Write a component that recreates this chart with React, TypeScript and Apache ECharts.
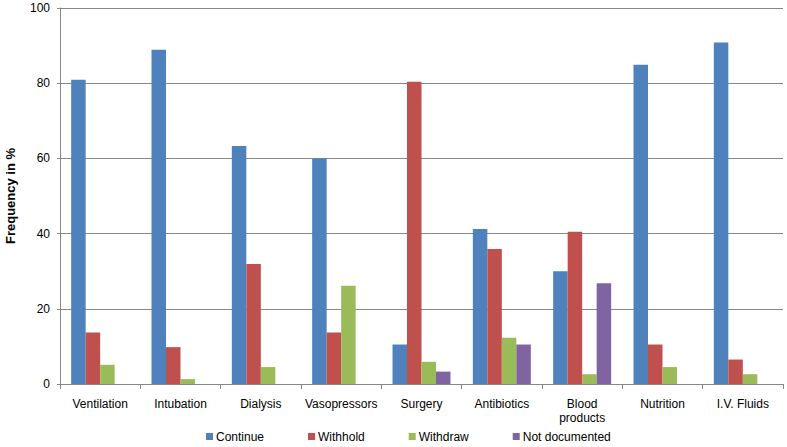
import React, { useEffect, useRef } from "react";
import * as echarts from "echarts";

const categories = ["Ventilation", "Intubation", "Dialysis", "Vasopressors", "Surgery", "Antibiotics", "Blood\nproducts", "Nutrition", "I.V. Fluids"];
const continueVals = [80.9, 88.9, 63.3, 60.0, 10.5, 41.2, 30.0, 84.9, 90.8];
const withholdVals = [13.7, 9.8, 31.9, 13.7, 80.4, 35.9, 40.5, 10.5, 6.5];
const withdrawVals = [5.1, 1.3, 4.5, 26.1, 5.9, 12.3, 2.6, 4.5, 2.6];
const notDocVals = [0, 0, 0, 0, 3.3, 10.5, 26.8, 0, 0];
const yTicks = [0, 20, 40, 60, 80, 100];

const font = "Liberation Sans, Arial, sans-serif";

export default function App() {
  const ref = useRef<HTMLDivElement>(null);
  useEffect(() => {
    if (!ref.current) return;
    const chart = echarts.init(ref.current, null, { renderer: "svg" });
    const mk = (name: string, data: number[], color: string) => ({
      name,
      type: "bar",
      data: data.map((v) => (v === 0 ? null : v)),
      itemStyle: { color },
      barGap: "0%",
      barCategoryGap: "27.8%",
    });
    chart.setOption({
      animation: false,
      textStyle: { fontFamily: font },
      grid: { left: 60, right: 4, top: 8, bottom: 63, containLabel: false, outerBoundsMode: "none" },
      legend: {
        left: 206,
        top: 430,
        padding: 0,
        itemWidth: 7,
        itemHeight: 7,
        itemGap: 44,
        icon: "rect",
        textStyle: { fontSize: 12, lineHeight: 13, color: "#000", fontFamily: font, padding: [0, 0, 0, -2] },
        data: ["Continue", "Withhold", "Withdraw", "Not documented"],
      },
      xAxis: {
        type: "category",
        data: categories,
        axisLine: { lineStyle: { color: "#878787" } },
        axisTick: { show: true, length: 5, lineStyle: { color: "#878787" } },
        axisLabel: { color: "#000", fontSize: 12, margin: 13, fontFamily: font, interval: 0, lineHeight: 14 },
      },
      yAxis: {
        type: "value",
        min: 0,
        max: 100,
        interval: 20,
        name: "Frequency in %",
        nameLocation: "middle",
        nameGap: 43,
        nameTextStyle: { fontSize: 13, fontWeight: "bold", color: "#000", fontFamily: font },
        axisLine: { show: true, lineStyle: { color: "#878787" } },
        axisTick: { show: true, length: 3, lineStyle: { color: "#878787" } },
        axisLabel: { color: "#000", fontSize: 12, margin: 10, fontFamily: font, formatter: (v: number) => (yTicks.includes(v) ? String(v) : "") },
        splitLine: { lineStyle: { color: "#878787" } },
      },
      series: [
        mk("Continue", continueVals, "#4F81BD"),
        mk("Withhold", withholdVals, "#C0504D"),
        mk("Withdraw", withdrawVals, "#9BBB59"),
        mk("Not documented", notDocVals, "#8064A2"),
      ],
    });
    return () => chart.dispose();
  }, []);
  return <div ref={ref} style={{ width: 787, height: 447, position: "absolute", left: 0, top: 0, background: "#fff" }} />;
}
